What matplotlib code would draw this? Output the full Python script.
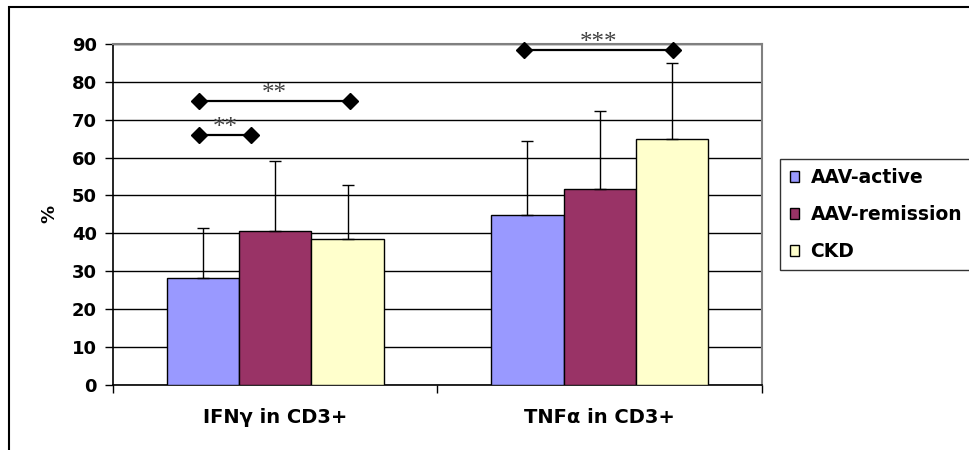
import matplotlib
matplotlib.use("Agg")
import matplotlib.pyplot as plt
from matplotlib.patches import Rectangle
import numpy as np

# Data
categories = ["IFNγ in CD3+", "TNFα in CD3+"]
groups = ["AAV-active", "AAV-remission", "CKD"]
means = {
    "AAV-active": [28.1, 44.8],
    "AAV-remission": [40.7, 51.7],
    "CKD": [38.5, 64.9],
}
sds = {
    "AAV-active": [13.2, 19.6],
    "AAV-remission": [18.3, 20.5],
    "CKD": [14.3, 20.1],
}
colors = {
    "AAV-active": "#9999FF",
    "AAV-remission": "#993366",
    "CKD": "#FFFFCC",
}
# significance brackets: (x_start, x_end, y, label)
sig_brackets = [
    (-0.234, -0.076, 66.0, "**"),
    (-0.234, 0.230, 75.0, "**"),
    (0.767, 1.227, 88.4, "***"),
]

plt.rcParams["font.family"] = ["DejaVu Sans"]

fig = plt.figure(figsize=(9.7, 4.5), dpi=100)
ax = fig.add_axes([0.1165, 0.1451, 0.669, 0.757])

x = np.arange(len(categories))
width = 0.2231
offsets = [-width, 0.0, width]

for g, off in zip(groups, offsets):
    ax.bar(x + off, means[g], width, color=colors[g], edgecolor="black",
           linewidth=1.0, label=g, zorder=3)
    ax.errorbar(x + off, means[g], yerr=[np.zeros(len(x)), sds[g]], fmt="none",
                ecolor="black", elinewidth=1.0, capsize=4, capthick=1.0, zorder=4)

for x0, x1, yv, lab in sig_brackets:
    ax.plot([x0, x1], [yv, yv], color="black", lw=1.6, marker="D",
            markersize=8, zorder=5, clip_on=False)
    ax.text((x0 + x1) / 2, yv + 0.2, lab, ha="center", va="baseline",
            fontsize=18, color="#404040", family="Liberation Serif", clip_on=False)

ax.set_xlim(-0.5, 1.5)
ax.set_ylim(0, 90)
ax.set_yticks(np.arange(0, 91, 10))
ax.yaxis.grid(True, color="black", linewidth=1.0, zorder=0)
ax.set_axisbelow(True)

ax.set_xticks(x)
ax.set_xticklabels(categories, fontsize=14, fontweight="bold")
ax.set_xticks([-0.5, 0.5, 1.5], minor=True)
ax.tick_params(axis="x", which="major", length=0, pad=17)
ax.tick_params(axis="x", which="minor", length=5.5, width=1.0, direction="out")
ax.tick_params(axis="y", length=5.5, width=1.0, direction="out", labelsize=13, pad=6)
for lbl in ax.get_yticklabels():
    lbl.set_fontweight("bold")

ax.set_ylabel("%", fontsize=13, fontweight="bold", labelpad=10)

ax.spines["left"].set_color("black")
ax.spines["left"].set_linewidth(1.2)
ax.spines["bottom"].set_color("black")
ax.spines["bottom"].set_linewidth(1.2)
ax.spines["top"].set_color("#808080")
ax.spines["top"].set_linewidth(1.5)
ax.spines["right"].set_color("#808080")
ax.spines["right"].set_linewidth(1.5)

leg = ax.legend(loc="upper left", bbox_to_anchor=(780.5 / 970, 1 - 159 / 450),
                bbox_transform=fig.transFigure, frameon=True, fancybox=False,
                prop={"size": 13.5, "weight": "bold"}, handlelength=0.5,
                handleheight=0.5, handletextpad=0.6, labelspacing=0.95,
                borderpad=0.5, borderaxespad=0)
leg.get_frame().set_edgecolor("black")
leg.get_frame().set_linewidth(1.0)
for h in leg.legend_handles:
    h.set_linewidth(1.0)

# outer chart frame
fig.patches.append(Rectangle((9 / 970, -0.05), 1.2, 1 - 7 / 450 + 0.05,
                             transform=fig.transFigure, fill=False,
                             edgecolor="black", linewidth=1.5))

fig.savefig("out.png", dpi=100)
